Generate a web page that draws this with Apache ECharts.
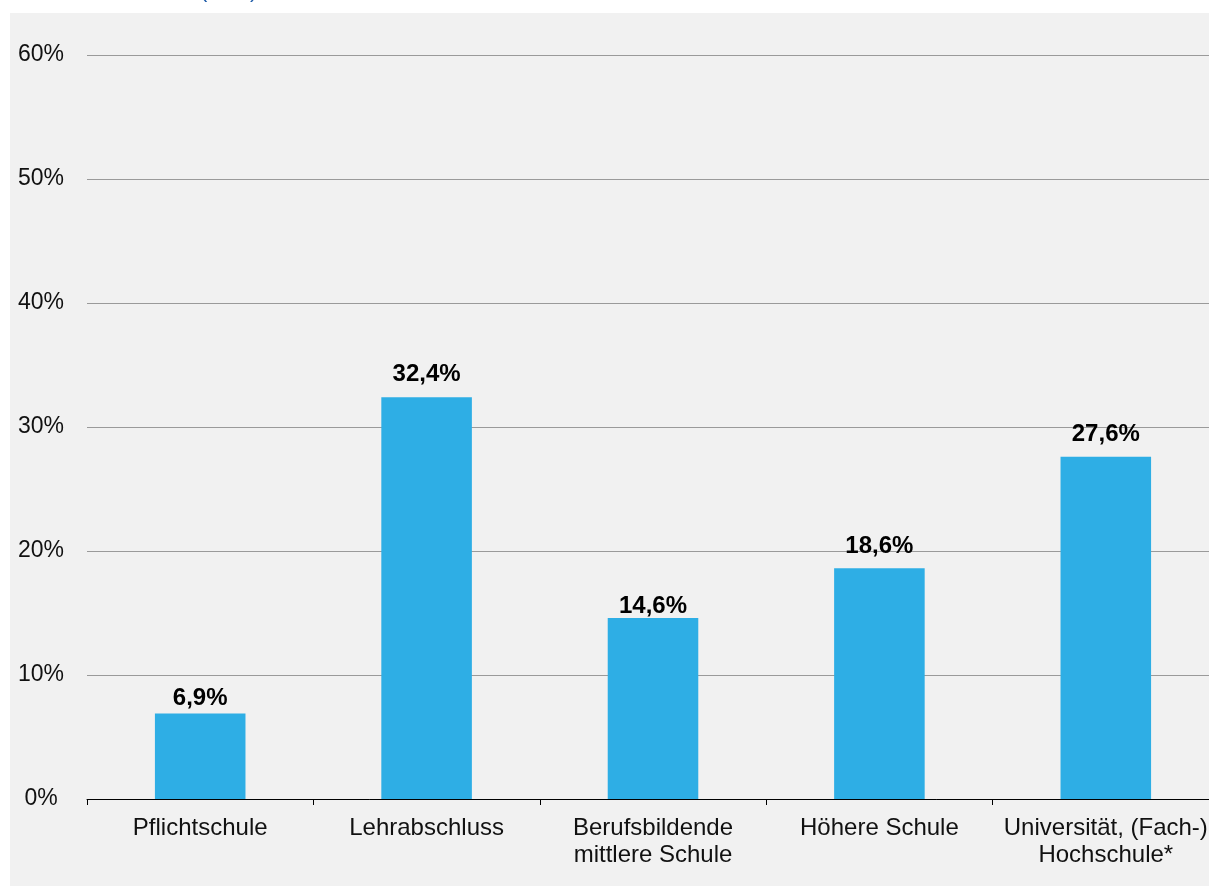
<!DOCTYPE html>
<html>
<head>
<meta charset="utf-8">
<script src="https://cdn.jsdelivr.net/npm/echarts@6/dist/echarts.min.js"></script>
<style>
html,body{margin:0;padding:0;background:#fff;overflow:hidden;}
#c{width:1219px;height:886px;}
</style>
</head>
<body>
<div id="c"></div>
<script>
const categories = ['Pflichtschule', 'Lehrabschluss', 'Berufsbildende\nmittlere Schule', 'Höhere Schule', 'Universität, (Fach-)\nHochschule*'];
const values = [6.9, 32.4, 14.6, 18.6, 27.6];
const yTicks = [0, 10, 20, 30, 40, 50, 60];

// label gap above each bar (style)
const labelGaps = [3, 11, 0, 10, 10];

const chart = echarts.init(document.getElementById('c'), null, {renderer: 'canvas'});
const font = 'Arial, "Liberation Sans", sans-serif';
chart.setOption({
  backgroundColor: '#ffffff',
  animation: false,
  graphic: [
    {type: 'rect', left: 10, top: 13, shape: {width: 1209, height: 873}, style: {fill: '#f1f1f1'}, z: -10, silent: true},
    {type: 'text', left: 200, top: -20, style: {text: '(in %)', fill: '#1f5ca8', font: '22px ' + font}, z: -5}
  ],
  grid: {left: 87, right: 0, top: 55, bottom: 87, containLabel: false},
  xAxis: {
    type: 'category',
    data: categories,
    axisLine: {show: true, lineStyle: {color: '#000', width: 1}},
    axisTick: {show: true, length: 6, lineStyle: {color: '#000'}},
    axisLabel: {color: '#111', fontSize: 24, fontFamily: font, margin: 16, lineHeight: 27, interval: 0}
  },
  yAxis: {
    type: 'value',
    min: yTicks[0],
    max: yTicks[yTicks.length - 1],
    interval: 10,
    axisLine: {show: false},
    axisTick: {show: false},
    splitLine: {show: true, lineStyle: {color: '#9a9a9a', width: 1}},
    axisLabel: {color: '#111', fontSize: 23, fontFamily: font, align: 'center', margin: 46,
      formatter: v => v + '%'}
  },
  series: [{
    type: 'bar',
    data: values.map((v, i) => ({value: v, label: {distance: labelGaps[i]}})),
    barWidth: '40%',
    itemStyle: {color: '#2eaee5'},
    label: {
      show: true, position: 'top', distance: 7,
      color: '#000', fontSize: 24, fontWeight: 'bold', fontFamily: font,
      formatter: p => String(p.value.toFixed(1)).replace('.', ',') + '%'
    }
  }]
});
</script>
</body>
</html>
